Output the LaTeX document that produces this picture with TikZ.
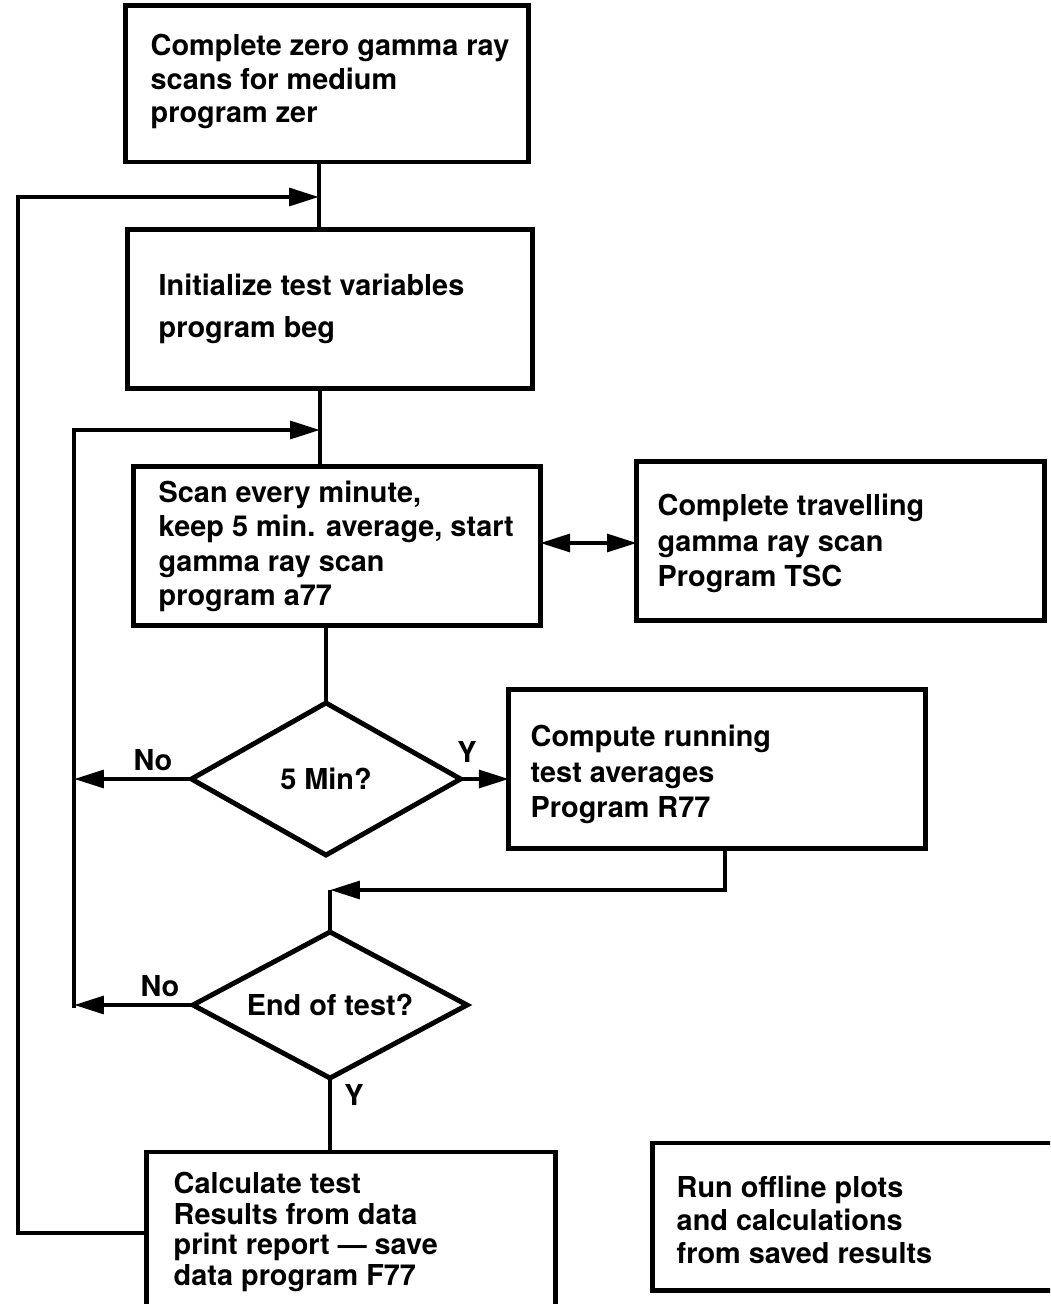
\documentclass[tikz,border=0pt]{standalone}
\usepackage{fontspec}
\setmainfont{TeX Gyre Heros}
\usetikzlibrary{arrows.meta,shapes.geometric}
\newcommand\fsz[1]{\fontsize{8.2}{#1}\selectfont\bfseries}
\begin{document}
\begin{tikzpicture}[x=0.01cm,y=-0.01cm,
  box/.style={draw, rectangle, line width=1.4pt, inner sep=0pt, outer sep=0pt},
  dia/.style={draw, diamond, line width=1.4pt, inner sep=0pt, outer sep=0pt, aspect=1.8, font=\fsz{10pt}},
  conn/.style={line width=1.2pt},
  arr/.style={conn, -{Triangle[length=8.5pt,width=5pt]}},
  darr/.style={conn, {Triangle[length=8.5pt,width=5pt]}-{Triangle[length=8.5pt,width=5pt]}},
  txt/.style={anchor=west, align=left, inner sep=0pt},
  lbl/.style={inner sep=0pt, font=\fsz{10pt}}]
\useasboundingbox (0,0) rectangle (1050,1304);
\clip (0,0) rectangle (1050,1304);

% boxes
\node[box, minimum width=4.02cm, minimum height=1.56cm] (zer) at (327,84) {};
\node[box, minimum width=4.04cm, minimum height=1.58cm] (beg) at (330,309) {};
\node[box, minimum width=4.06cm, minimum height=1.58cm] (a77) at (337,546) {};
\node[box, minimum width=4.07cm, minimum height=1.58cm] (tsc) at (840.5,541) {};
\node[dia, minimum width=2.69cm, minimum height=1.52cm] (d1) at (326,779) {5 Min?};
\node[box, minimum width=4.16cm, minimum height=1.58cm] (r77) at (717,769) {};
\node[dia, minimum width=2.74cm, minimum height=1.46cm] (d2) at (330,1005) {End of test?};
\node[box, minimum width=4.08cm, minimum height=1.66cm] (f77) at (351,1235) {};
\node[box, minimum width=4.17cm, minimum height=1.47cm] (run) at (861.5,1216.5) {};

% texts
\node[txt, font=\fsz{9.53pt}] (tzer) at (150,81.5) {Complete zero gamma ray\\scans for medium\\program zer};
\node[txt, font=\fsz{11.95pt}] (tbeg) at (158,309) {Initialize test variables\\program beg};
\node[txt, font=\fsz{9.77pt}] (ta77) at (158,546.5) {Scan every minute,\\keep 5 min. average, start\\gamma ray scan\\program a77};
\node[txt, font=\fsz{10.1pt}] (ttsc) at (657,543.5) {Complete travelling\\gamma ray scan\\Program TSC};
\node[txt, font=\fsz{10.1pt}] (tr77) at (530,774.5) {Compute running\\test averages\\Program R77};
\node[txt, font=\fsz{8.73pt}] (tf77) at (173,1232) {Calculate test\\Results from data\\print report — save\\data program F77};
\node[txt, font=\fsz{9.39pt}] (trun) at (676,1220) {Run offline plots\\and calculations\\from saved results};

% labels
\node[lbl] (no1) at (153,760) {No};
\node[lbl] (y1) at (467,752) {Y};
\node[lbl] (no2) at (160,986) {No};
\node[lbl] (y2) at (354,1095) {Y};

% junction coordinates
\coordinate (j1) at (319,197);
\coordinate (ot) at (18,197);
\coordinate (ob) at (18,1233);
\coordinate (j2) at (320,430);
\coordinate (it) at (74,430);
\coordinate (ib) at (74,1008);
\coordinate (dd) at (588,543);
\coordinate (rr) at (725,890);
\coordinate (rl) at (330,890);

% connectors
\draw[conn] (zer.south -| j1) -- (beg.north -| j1);
\draw[arr] (f77.west |- ob) -- (ob) -- (ot) -- (j1);
\draw[conn] (beg.south -| j2) -- (a77.north -| j2);
\draw[arr] (ib) -- (it) -- (j2);
\draw[conn] (a77.south -| d1.north) -- (d1.north);
\draw[darr] (a77.east |- dd) -- (tsc.west |- dd);
\draw[arr] (d1.west) -- (d1.west -| it);
\draw[arr] (d1.east) -- (d1.east -| r77.west);
\draw[arr] (r77.south -| rr) -- (rr) -- (rl);
\draw[conn] (rl) -- (d2.north);
\draw[arr] (d2.west) -- (d2.west -| it);
\draw[conn] (d2.south) -- (d2.south |- f77.north);
\end{tikzpicture}
\end{document}
